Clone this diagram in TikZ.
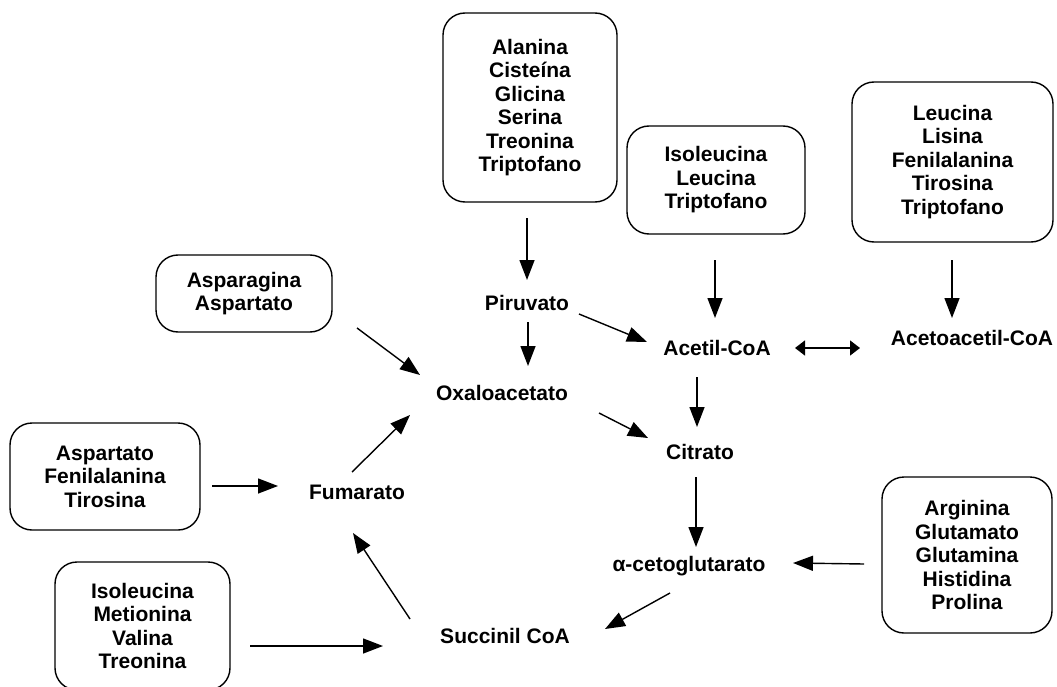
\documentclass[tikz,border=0pt]{standalone}
\usepackage{fontspec}
\setmainfont{Liberation Sans}
\usetikzlibrary{arrows.meta}
\begin{document}
\begin{tikzpicture}[x=1pt,y=-1pt,
  every node/.style={font=\bfseries\fontsize{21}{23.5}\selectfont, inner sep=0pt},
  abox/.style={draw, line width=1.4pt, rounded corners=22pt, align=center},
  lbl/.style={},
  arr/.style={line width=1.4pt, -{Triangle[length=20pt,width=15pt]}},
  darr/.style={line width=1.4pt, {Triangle[length=10pt,width=15pt]}-{Triangle[length=10pt,width=15pt]}}]
\useasboundingbox (0,0) rectangle (1057,687);
% boxes
\node[abox, minimum width=174pt, minimum height=189pt] (box1) at (530,107.5) {Alanina\\Ciste\'ina\\Glicina\\Serina\\Treonina\\Triptofano};
\node[abox, minimum width=178pt, minimum height=108pt] (box2) at (716,180) {Isoleucina\\Leucina\\Triptofano};
\node[abox, minimum width=201pt, minimum height=160pt] (box3) at (952.5,162) {Leucina\\Lisina\\Fenilalanina\\Tirosina\\Triptofano};
\node[abox, minimum width=176pt, minimum height=77pt] (box4) at (244,293.5) {Asparagina\\Aspartato};
\node[abox, minimum width=190pt, minimum height=107pt] (box5) at (105,476.5) {Aspartato\\Fenilalanina\\Tirosina};
\node[abox, minimum width=175pt, minimum height=128pt] (box6) at (142.5,626) {Isoleucina\\Metionina\\Valina\\Treonina};
\node[abox, minimum width=170pt, minimum height=156pt] (box7) at (967,555) {Arginina\\Glutamato\\Glutamina\\Histidina\\Prolina};
% labels
\node[lbl] (pir) at (527,303) {Piruvato};
\node[lbl] (oxa) at (502,393) {Oxaloacetato};
\node[lbl] (acet) at (717,348) {Acetil-CoA};
\node[lbl] (acac) at (972,338) {Acetoacetil-CoA};
\node[lbl] (cit) at (700,452) {Citrato};
\node[lbl] (fum) at (357,492) {Fumarato};
\node[lbl] (akg) at (689,566) {α-cetoglutarato};
\node[lbl] (suc) at (505,636) {Succinil CoA};
% arrows
\draw[arr] ([shift={(-3,110.5)}]box1.center) -- ([shift={(0,-23)}]pir.center);
\draw[arr] ([shift={(-1,80)}]box2.center) -- ([shift={(-2,-30)}]acet.center);
\draw[arr] ([shift={(-0.5,98)}]box3.center) -- ([shift={(-20,-20)}]acac.center);
\draw[arr] ([shift={(113,34.5)}]box4.center) -- ([shift={(-82,-18)}]oxa.center);
\draw[arr] ([shift={(1,19)}]pir.center) -- ([shift={(26,-27)}]oxa.center);
\draw[arr] ([shift={(52,11)}]pir.center) -- ([shift={(-70,-6)}]acet.center);
\draw[darr] ([shift={(78,0)}]acet.center) -- ([shift={(-112,10)}]acac.center);
\draw[arr] ([shift={(-20,29)}]acet.center) -- ([shift={(-3,-25)}]cit.center);
\draw[arr] ([shift={(97,20)}]oxa.center) -- ([shift={(-52,-14)}]cit.center);
\draw[arr] ([shift={(-4,25)}]cit.center) -- ([shift={(7,-19)}]akg.center);
\draw[arr] ([shift={(-103,9)}]box7.center) -- ([shift={(104,-3)}]akg.center);
\draw[arr] ([shift={(-19,27)}]akg.center) -- ([shift={(100,-7)}]suc.center);
\draw[arr] ([shift={(107.5,20)}]box6.center) -- ([shift={(-122,10)}]suc.center);
\draw[arr] ([shift={(-95,-17)}]suc.center) -- ([shift={(-4,41)}]fum.center);
\draw[arr] ([shift={(-5,-20)}]fum.center) -- ([shift={(-92,22)}]oxa.center);
\draw[arr] ([shift={(107,9.5)}]box5.center) -- ([shift={(-79,-6)}]fum.center);
\end{tikzpicture}
\end{document}
